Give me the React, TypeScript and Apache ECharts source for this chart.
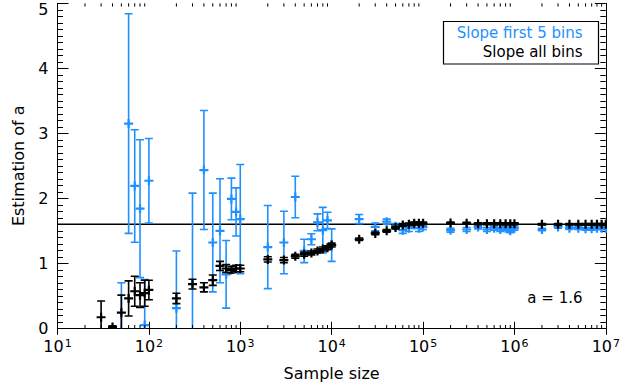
import { useEffect, useRef } from 'react';
import * as echarts from 'echarts';

// ---- data ----
const firstBinsN = [50, 60, 70, 80, 90, 100, 200, 300, 400, 500, 600, 700, 800, 900, 1000,
  2000, 3000, 4000, 5000, 6000, 7000, 8000, 9000, 10000,
  20000, 30000, 40000, 50000, 60000, 70000, 80000, 90000, 100000,
  200000, 300000, 400000, 500000, 600000, 700000, 800000, 900000, 1000000,
  2000000, 3000000, 4000000, 5000000, 6000000, 7000000, 8000000, 9000000, 10000000];
const firstBinsSlope = [-0.2, 3.15, 2.19, 1.84, 0.05, 2.27, 0.31, -0.1, 2.435, 1.32, 1.5, 0.83, 1.99, 1.79, 1.68,
  1.25, 1.32, 2.02, 1.19, 1.37, 1.63, 1.51, 1.66, 1.28,
  1.68, 1.56, 1.64, 1.57, 1.51, 1.54, 1.59, 1.54, 1.56,
  1.51, 1.52, 1.56, 1.52, 1.54, 1.52, 1.54, 1.5, 1.54,
  1.52, 1.56, 1.54, 1.54, 1.53, 1.53, 1.54, 1.54, 1.54];
const firstBinsErr = [0.9, 1.69, 0.865, 1.06, 0.7, 0.65, 0.88, 2.18, 0.915, 0.76, 0.8, 0.52, 0.32, 0.37, 0.84,
  0.64, 0.48, 0.32, 0.18, 0.085, 0.13, 0.35, 0.125, 0.25,
  0.07, 0.06, 0.04, 0.04, 0.05, 0.05, 0.04, 0.05, 0.04,
  0.03, 0.03, 0.03, 0.03, 0.03, 0.03, 0.03, 0.03, 0.03,
  0.02, 0.02, 0.02, 0.02, 0.02, 0.02, 0.02, 0.02, 0.02];

const allBinsN = [30, 40, 50, 60, 70, 80, 90, 100, 200, 300, 400, 500, 600, 700, 800, 900, 1000,
  2000, 3000, 4000, 5000, 6000, 7000, 8000, 9000, 10000,
  20000, 30000, 40000, 50000, 60000, 70000, 80000, 90000, 100000,
  200000, 300000, 400000, 500000, 600000, 700000, 800000, 900000, 1000000,
  2000000, 3000000, 4000000, 5000000, 6000000, 7000000, 8000000, 9000000, 10000000];
const allBinsSlope = [0.17, 0.02, 0.24, 0.46, 0.57, 0.51, 0.54, 0.59, 0.46, 0.68, 0.63, 0.74, 0.96, 0.92, 0.9, 0.92, 0.92,
  1.06, 1.05, 1.11, 1.14, 1.16, 1.19, 1.22, 1.24, 1.28,
  1.37, 1.46, 1.5, 1.55, 1.59, 1.6, 1.615, 1.615, 1.615,
  1.62, 1.615, 1.61, 1.61, 1.61, 1.61, 1.61, 1.61, 1.61,
  1.6, 1.6, 1.6, 1.6, 1.6, 1.6, 1.6, 1.6, 1.6];
const allBinsErr = [0.25, 0.02, 0.27, 0.27, 0.23, 0.19, 0.2, 0.15, 0.08, 0.075, 0.07, 0.08, 0.07, 0.06, 0.05, 0.05, 0.05,
  0.04, 0.04, 0.03, 0.03, 0.03, 0.03, 0.03, 0.03, 0.03,
  0.02, 0.02, 0.02, 0.02, 0.02, 0.02, 0.02, 0.02, 0.02,
  0.015, 0.015, 0.015, 0.015, 0.015, 0.015, 0.015, 0.015, 0.015,
  0.01, 0.01, 0.01, 0.01, 0.01, 0.01, 0.01, 0.01, 0.01];

const trueSlope = 1.6;
const yTicks = [0, 1, 2, 3, 4, 5];
const xDecades = [10, 100, 1000, 10000, 100000, 1000000];
const minorMultipliers = [2, 3, 4, 5, 6, 7, 8, 9];
const legendLabels = ['Slope first 5 bins', 'Slope all bins'];
const annotation = 'a = 1.6';

const BLUE = '#1E90FF';
const FONT = 'DejaVu Sans';

function errorBars(color: string) {
  return (params: any, api: any) => {
    const x = api.value(0);
    const v = api.value(1);
    const e = api.value(2);
    const c = api.coord([x, v]);
    const hi = api.coord([x, v + e]);
    const lo = api.coord([x, v - e]);
    const cap = 4;
    const m = 4.5;
    const s = { stroke: color, lineWidth: 1.6 };
    const sm = { stroke: color, lineWidth: 2.2 };
    return {
      type: 'group',
      children: [
        { type: 'line', shape: { x1: c[0], y1: hi[1], x2: c[0], y2: lo[1] }, style: s },
        { type: 'line', shape: { x1: c[0] - cap, y1: hi[1], x2: c[0] + cap, y2: hi[1] }, style: s },
        { type: 'line', shape: { x1: c[0] - cap, y1: lo[1], x2: c[0] + cap, y2: lo[1] }, style: s },
        { type: 'line', shape: { x1: c[0] - m, y1: c[1], x2: c[0] + m, y2: c[1] }, style: sm },
        { type: 'line', shape: { x1: c[0], y1: c[1] - m, x2: c[0], y2: c[1] + m }, style: sm },
      ],
    };
  };
}

export default function App() {
  const ref = useRef<HTMLDivElement>(null);
  useEffect(() => {
    if (!ref.current) return;
    const chart = echarts.init(ref.current, undefined, { renderer: 'svg' });
    const minorX: number[][] = [];
    xDecades.forEach((d) => minorMultipliers.forEach((k) => minorX.push([d * k, 0])));
    const yMin = yTicks[0];
    const yMax = yTicks[yTicks.length - 1];

    const tickAxisX = (pos: 'bottom' | 'top', labels: boolean) => ({
      type: 'log',
      logBase: 10,
      position: pos,
      min: 10,
      max: 10000000,
      splitNumber: 6,
      axisLine: { show: true, lineStyle: { color: '#000', width: 1 } },
      axisTick: { show: true, inside: true, length: 6.5, lineStyle: { color: '#000' } },
      splitLine: { show: false },
      axisLabel: labels
        ? {
            show: true,
            margin: 10,
            formatter: (v: number) => `{b|10}{s|${Math.round(Math.log10(v))}}`,
            rich: {
              b: { fontSize: 16, fontFamily: FONT, color: '#000' },
              s: { fontSize: 11, fontFamily: FONT, color: '#000', verticalAlign: 'top', padding: [0, 0, 0, 1] },
            },
          }
        : { show: false },
      name: labels ? 'Sample size' : '',
      nameLocation: 'middle',
      nameGap: 37,
      nameTextStyle: { fontSize: 16, fontFamily: FONT, color: '#000' },
    });

    const tickAxisY = (pos: 'left' | 'right', labels: boolean) => ({
      type: 'value',
      position: pos,
      min: yMin,
      max: yMax,
      interval: 1,
      axisLine: { show: true, lineStyle: { color: '#000', width: 1 } },
      axisTick: { show: true, inside: true, length: 11, lineStyle: { color: '#000' } },
      minorTick: { show: true, splitNumber: 10, length: 5.5, lineStyle: { color: '#000' } },
      splitLine: { show: false },
      minorSplitLine: { show: false },
      axisLabel: labels
        ? {
            show: true,
            margin: 9,
            formatter: (v: number) => (v === yMax ? `{t|${v}}` : `{n|${v}}`),
            rich: {
              n: { fontSize: 16, fontFamily: FONT, color: '#000' },
              t: { fontSize: 16, fontFamily: FONT, color: '#000', padding: [12, 0, 0, 0] },
            },
          }
        : { show: false },
      name: labels ? 'Estimation of a' : '',
      nameLocation: 'middle',
      nameGap: 31,
      nameTextStyle: { fontSize: 16, fontFamily: FONT, color: '#000' },
    });

    chart.setOption({
      animation: false,
      backgroundColor: '#fff',
      grid: { left: 57.5, right: 13.5, top: 3.3, bottom: 58.7, containLabel: false },
      xAxis: [tickAxisX('bottom', true), tickAxisX('top', false)],
      yAxis: [tickAxisY('left', true), tickAxisY('right', false)],
      series: [
        {
          type: 'line',
          data: [[10, trueSlope], [10000000, trueSlope]],
          symbol: 'none',
          lineStyle: { color: '#000', width: 1.5 },
          silent: true,
          z: 2,
        },
        {
          type: 'custom',
          name: legendLabels[0],
          clip: true,
          renderItem: errorBars(BLUE),
          encode: { x: 0, y: 1 },
          data: firstBinsN.map((n, i) => [n, firstBinsSlope[i], firstBinsErr[i]]),
          z: 3,
        },
        {
          type: 'custom',
          name: legendLabels[1],
          clip: true,
          renderItem: errorBars('#000'),
          encode: { x: 0, y: 1 },
          data: allBinsN.map((n, i) => [n, allBinsSlope[i], allBinsErr[i]]),
          z: 4,
        },
        {
          type: 'custom',
          clip: false,
          silent: true,
          encode: { x: 0, y: 1 },
          data: minorX,
          renderItem: (params: any, api: any) => {
            const x = api.value(0);
            const b = api.coord([x, yMin]);
            const t = api.coord([x, yMax]);
            const st = { stroke: '#000', lineWidth: 1 };
            return {
              type: 'group',
              children: [
                { type: 'line', shape: { x1: b[0], y1: b[1], x2: b[0], y2: b[1] - 3.3 }, style: st },
                { type: 'line', shape: { x1: t[0], y1: t[1], x2: t[0], y2: t[1] + 3.3 }, style: st },
              ],
            };
          },
          z: 5,
        },
      ],
      graphic: [
        {
          type: 'rect',
          shape: { x: 443.5, y: 21.5, width: 155, height: 42.5 },
          style: { fill: '#fff', stroke: '#000', lineWidth: 1.2 },
          z: 10,
        },
        {
          type: 'text',
          x: 582.5,
          y: 33,
          style: { text: legendLabels[0], fill: BLUE, font: `15px "${FONT}"`, textAlign: 'right', textVerticalAlign: 'middle' },
          z: 11,
        },
        {
          type: 'text',
          x: 582.5,
          y: 52,
          style: { text: legendLabels[1], fill: '#000', font: `15px "${FONT}"`, textAlign: 'right', textVerticalAlign: 'middle' },
          z: 11,
        },
        {
          type: 'text',
          x: 582.5,
          y: 298,
          style: { text: annotation, fill: '#000', font: `15px "${FONT}"`, textAlign: 'right', textVerticalAlign: 'middle' },
          z: 11,
        },
      ],
    });
    return () => chart.dispose();
  }, []);
  return <div ref={ref} style={{ position: 'absolute', left: 0, top: 0, width: 623, height: 387 }} />;
}
